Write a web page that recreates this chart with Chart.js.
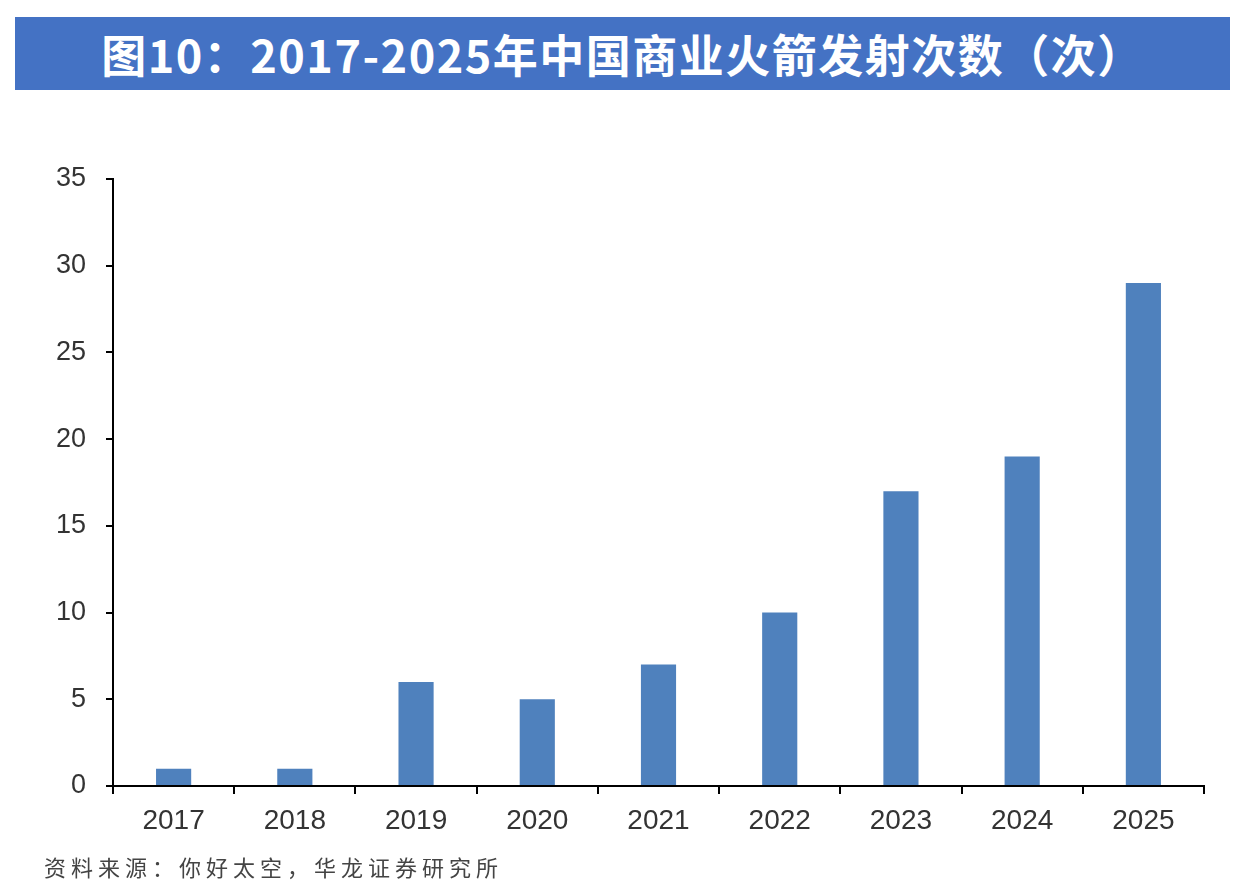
<!DOCTYPE html>
<html>
<head>
<meta charset="utf-8">
<script src="https://cdn.jsdelivr.net/npm/chart.js@4.4.1/dist/chart.umd.min.js"></script>
<style>
  html, body { margin: 0; padding: 0; background: #ffffff; }
  body { width: 1250px; height: 894px; position: relative; overflow: hidden; }
  #banner {
    position: absolute; left: 15px; top: 17px; width: 1215px; height: 73px;
    background: #4472C4; color: #ffffff;
    font-family: "Noto Sans CJK SC", sans-serif; font-weight: bold; font-size: 45px;
    line-height: 73px; text-align: center; letter-spacing: 1.5px;
  }
  #wrap { position: absolute; left: 0; top: 0; width: 1250px; height: 894px; }
  #source {
    position: absolute; left: 44px; top: 851px;
    font-family: "Noto Sans CJK SC", sans-serif; font-size: 22px; color: #444444;
    letter-spacing: 5px; line-height: 30px;
  }
</style>
</head>
<body>
<div id="wrap"><canvas id="c" width="1250" height="894"></canvas></div>
<div id="banner">图10：2017-2025年中国商业火箭发射次数（次）</div>
<div id="source">资料来源：你好太空，华龙证券研究所</div>
<script>
const categories = ["2017", "2018", "2019", "2020", "2021", "2022", "2023", "2024", "2025"];
const launches = [1, 1, 6, 5, 7, 10, 17, 19, 29];
const yTicks = [0, 5, 10, 15, 20, 25, 30, 35];

const ctx = document.getElementById('c').getContext('2d');
new Chart(ctx, {
  type: 'bar',
  data: {
    labels: categories,
    datasets: [{
      data: launches,
      backgroundColor: '#4F81BD',
      borderWidth: 0,
      barPercentage: 0.29,
      categoryPercentage: 1.0
    }]
  },
  options: {
    responsive: false,
    animation: false,
    layout: { padding: { top: 179, right: 46, bottom: 0, left: 0 } },
    plugins: { legend: { display: false }, title: { display: false }, tooltip: { enabled: false } },
    scales: {
      x: {
        offset: true,
        grid: { display: true, offset: true, drawOnChartArea: false, drawTicks: true, tickLength: 8, color: '#000000', lineWidth: 2 },
        border: { display: true, color: '#000000', width: 2 },
        ticks: { color: '#333333', font: { family: 'Liberation Sans, Arial, sans-serif', size: 28 }, padding: 10, maxRotation: 0 },
        afterFit: (s) => { s.height = 894 - 786; }
      },
      y: {
        min: 0, max: 35,
        afterBuildTicks: (s) => { s.ticks = yTicks.map(v => ({ value: v })); },
        grid: { display: true, drawOnChartArea: false, drawTicks: true, tickLength: 7, color: '#000000', lineWidth: 2 },
        border: { display: true, color: '#000000', width: 2 },
        ticks: { color: '#333333', font: { family: 'Liberation Sans, Arial, sans-serif', size: 27 }, padding: 20 },
        afterFit: (s) => { s.width = 113; }
      }
    }
  }
});
</script>
</body>
</html>
